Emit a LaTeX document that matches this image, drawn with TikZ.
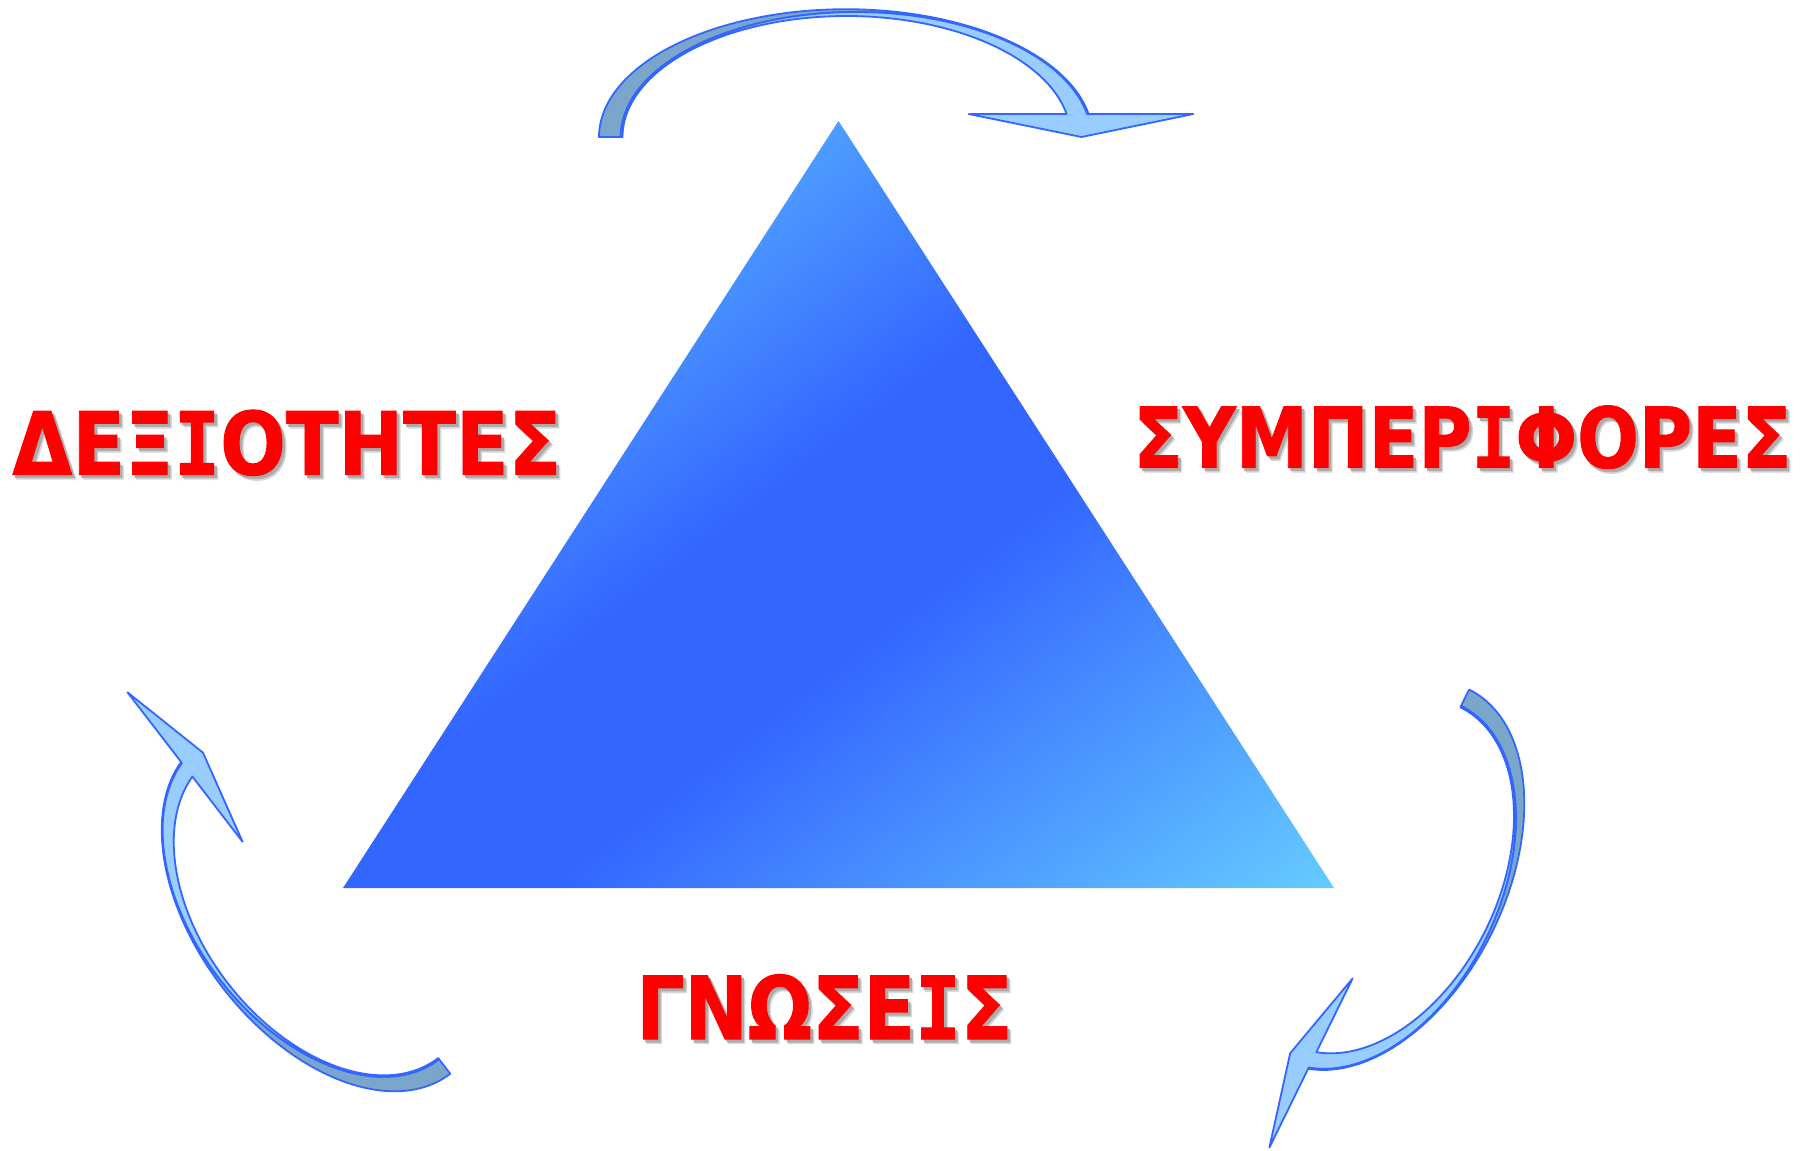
\documentclass[tikz,border=0pt]{standalone}
\usepackage{fontspec}
\usepackage{graphicx}
\newfontfamily\lblfont{DejaVu Sans}[BoldFeatures={FakeBold=1.2}]
\newfontfamily\lblmono{DejaVu Sans Mono}[BoldFeatures={FakeBold=1.2}]
\definecolor{tcyan}{RGB}{102,204,255}
\definecolor{tdark}{RGB}{51,102,255}
\definecolor{adark}{RGB}{123,166,204}
\definecolor{alight}{RGB}{153,204,255}
\definecolor{aline}{RGB}{51,102,255}
\definecolor{shadowA}{RGB}{215,215,215}
\definecolor{shadowB}{RGB}{172,172,172}
\pgfdeclarehorizontalshading{trishade}{100bp}{color(0bp)=(tcyan); color(13.8bp)=(tcyan); color(39bp)=(tdark); color(48.5bp)=(tdark); color(74.4bp)=(tcyan); color(100bp)=(tcyan)}
\newcommand\curvedarrow{%
  \filldraw[arrowdark] plot[domain=180:349.63,samples=90] ({845.8+246.8*cos(\x)},{137+127.8*sin(\x)})
    -- plot[domain=349.397:180,samples=90] ({855.9+235.1*cos(\x)},{137+125*sin(\x)}) -- cycle;
  \filldraw[arrowlight] (968.7,114)
    -- plot[domain=349.04:180,samples=90] ({846.6+224.1*cos(\x)},{137+121*sin(\x)})
    -- (620.8,137)
    -- plot[domain=180:349.397,samples=90] ({855.9+235.1*cos(\x)},{137+125*sin(\x)})
    -- (1193.3,114) -- (1081.5,137) -- cycle;
}
\newcommand\shadowed[1]{%
  \makebox[0pt][l]{\hspace{2.3pt}\raisebox{-2.3pt}{\color{shadowA}#1}}%
  \makebox[0pt][l]{\hspace{1.5pt}\raisebox{-1.5pt}{\color{shadowB}#1}}%
  {\color{red}#1}}
\newcommand\gI{{\lblmono Ι}}
\begin{document}
\begin{tikzpicture}[x=0.5pt,y=-0.5pt,
  arrowdark/.style={fill=adark, draw=aline, line width=0.9pt, line join=round},
  arrowlight/.style={fill=alight, draw=aline, line width=0.9pt, line join=round},
  lbltext/.style={anchor=base west, inner sep=0pt, font=\lblfont\bfseries}]
\useasboundingbox (0,0) rectangle (1806,1151);
% triangle
\coordinate (A) at (838.5,121);
\coordinate (B) at (343,888);
\coordinate (C) at (1334,888);
\begin{scope}
  \clip (A) -- (B) -- (C) -- cycle;
  \begin{scope}[transform canvas={shift={(366.6,475.2)},rotate=-52.4}]
    \shade[shading=trishade] (0,-1400) rectangle (930,1400);
  \end{scope}
\end{scope}
% arrows
\begin{scope}
  \curvedarrow
\end{scope}
\begin{scope}[shift={(185,767)},rotate=127.6,xscale=0.84]
  \begin{scope}[shift={(-1081,-114)}]
    \curvedarrow
  \end{scope}
\end{scope}
\begin{scope}[shift={(1311,1063)},rotate=-116.2,xscale=0.84]
  \begin{scope}[shift={(-1081,-114)}]
    \curvedarrow
  \end{scope}
\end{scope}
% labels
\node[lbltext] (skills) at (12,474.5)
  {\fontsize{43.5pt}{43.5pt}\selectfont\resizebox{274.5pt}{\height}{\shadowed{ΔΕΞ\gI ΟΤΗΤΕΣ}}};
\node[lbltext] (behav) at (1133,467.6)
  {\fontsize{41.8pt}{41.8pt}\selectfont\resizebox{329pt}{\height}{\shadowed{ΣΥΜΠΕΡ\gI ΦΟΡΕΣ}}};
\node[lbltext] (knowl) at (636,1039)
  {\fontsize{43.5pt}{43.5pt}\selectfont\resizebox{188pt}{\height}{\shadowed{ΓΝΩΣΕ\gI Σ}}};
\end{tikzpicture}
\end{document}
